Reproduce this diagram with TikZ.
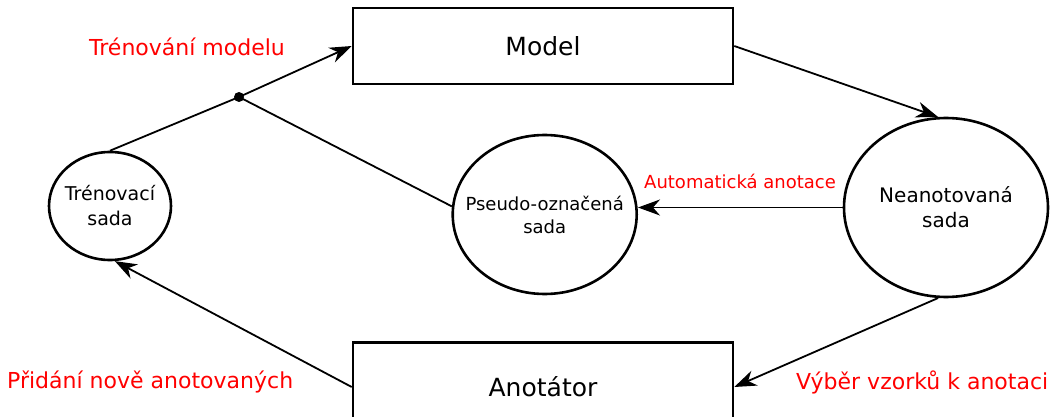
\documentclass[tikz,border=0pt]{standalone}
\usepackage{fontspec}
\setmainfont{DejaVu Sans}
\usetikzlibrary{shapes.geometric,arrows.meta}

\begin{document}
\begin{tikzpicture}[x=1pt,y=-1pt,
  box/.style={draw,line width=2.6pt,minimum width=380pt,inner sep=0pt,
    font=\fontsize{25}{30}\selectfont},
  set/.style={draw,ellipse,line width=2.6pt,inner sep=0pt},
  settext/.style={align=center,inner sep=0pt},
  link/.style={line width=1.8pt,-{Stealth[length=22pt,width=16pt,inset=7pt]}},
  plain/.style={line width=1.8pt},
  note/.style={text=red,inner sep=0pt,anchor=base west,
    font=\fontsize{22}{26}\selectfont}]
\useasboundingbox (0,0) rectangle (1060,417);

% boxes
\node[box,minimum height=76pt] (model) at (543,46) {Model};
\node[box,minimum height=89pt] (anot) at (543,387) {Anotátor};

% data sets: outline and caption as separate nodes
\node[set,minimum width=122pt,minimum height=108pt] (train) at (110,206) {};
\node[settext,font=\fontsize{19}{25}\selectfont] (traintext) at (train.center) {Trénovací\\sada};
\node[set,minimum width=184pt,minimum height=159pt] (pseudo) at (544.7,214.5) {};
\node[settext,font=\fontsize{18}{23}\selectfont] (pseudotext) at (pseudo.center) {Pseudo-označená\\sada};
\node[set,minimum width=204pt,minimum height=179pt] (neo) at (946,207.5) {};
\node[settext,font=\fontsize{20}{25}\selectfont] (neotext) at (neo.center) {Neanotovaná\\sada};

% junction
\node[circle,fill,inner sep=0pt,minimum size=10pt] (dot) at (239,97) {};

% connectors
\draw[plain] (train.north) -- (dot.center);
\draw[plain] (pseudo.175) -- (dot.center);
\draw[link] (dot.center) -- (model.west);
\draw[link] (model.east) -- (neo.95);
\draw[link] (neo.west) -- (neo.west -| pseudo.east);
\draw[link] (neo.265) -- (anot.east);
\draw[link] (anot.west) -- (train.-85);

% labels
\node[note] (l1) at (89,56) {Trénování modelu};
\node[note,font=\fontsize{18}{22}\selectfont] (l2) at (644,188) {Automatická anotace};
\node[note] (l3) at (7,388) {Přidání nově anotovaných};
\node[note] (l4) at (796,389) {Výběr vzorků k anotaci};
\end{tikzpicture}
\end{document}
